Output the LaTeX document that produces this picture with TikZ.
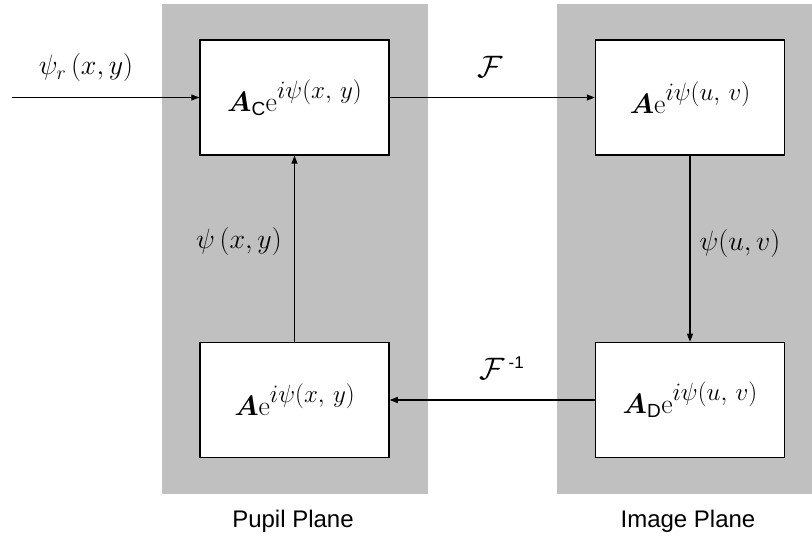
\documentclass[tikz,border=0pt]{standalone}
\usepackage{fix-cm}
\usepackage{amsmath,bm}
\usepackage{fontspec}
\newfontfamily\arialfont{Liberation Sans}
\usetikzlibrary{arrows.meta}
\definecolor{panelgray}{RGB}{192,192,192}
\tikzset{
  panel/.style={fill=panelgray,draw=none},
  blockbox/.style={draw=black,line width=1.5pt,fill=white,minimum width=189pt,minimum height=115pt,inner sep=0pt,font=\fontsize{28}{31}\selectfont},
  flow/.style={draw=black,line width=1.1pt,-{Triangle[length=8pt,width=6pt]}},
  mathlabel/.style={inner sep=0pt,font=\fontsize{28}{32}\selectfont},
  calF/.style={inner sep=0pt,font=\fontsize{31}{35}\selectfont},
  planelabel/.style={inner sep=0pt,font=\arialfont\fontsize{24}{28}\selectfont}
}
\newcommand{\supsz}[1]{\raisebox{13pt}{\fontsize{25}{27}\selectfont$#1$}}
\newcommand{\subsf}[1]{\mbox{\arialfont\fontsize{19}{21}\selectfont #1}}
\begin{document}
\begin{tikzpicture}[x=1pt,y=-1pt]
\useasboundingbox (0,0) rectangle (812,540);
% panels
\path[panel] (162,4) rectangle (428,494);
\path[panel] (557,4) rectangle (812,494);
% boxes
\node[blockbox] (tl) at (294.5,97.5) {$\bm{A}_{\subsf{C}}\mathrm{e}\supsz{i\psi(x,\,y)}$};
\node[blockbox] (tr) at (690,97.5) {$\bm{A}\mathrm{e}\supsz{i\psi(u,\,v)}$};
\node[blockbox] (bl) at (294.5,400) {$\bm{A}\mathrm{e}\supsz{i\psi(x,\,y)}$};
\node[blockbox] (br) at (690,400) {$\bm{A}_{\subsf{D}}\mathrm{e}\supsz{i\psi(u,\,v)}$};
\coordinate (in) at (12,97.5);
% connectors
\draw[flow] (in) -- (tl.west);
\draw[flow] (tl.east) -- (tr.west);
\draw[flow] (tr.south) -- (br.north);
\draw[flow] (br.west) -- (bl.east);
\draw[flow] (bl.north) -- (tl.south);
% labels
\node[mathlabel] (lin) at (86,68) {$\psi_r\,(x,y)$};
\node[calF] (lf) at (490,67) {$\mathcal{F}$};
\node[mathlabel] (luv) at (740,244) {$\psi(u,v)$};
\node[calF] (lfi) at (502,368) {$\mathcal{F}^{\,\mbox{\arialfont\fontsize{17}{19}\selectfont -1}}$};
\node[mathlabel] (lxy) at (239,242) {$\psi\,(x,y)$};
\node[planelabel] (pp) at (293,521) {Pupil Plane};
\node[planelabel] (ip) at (688,521) {Image Plane};
\end{tikzpicture}
\end{document}
